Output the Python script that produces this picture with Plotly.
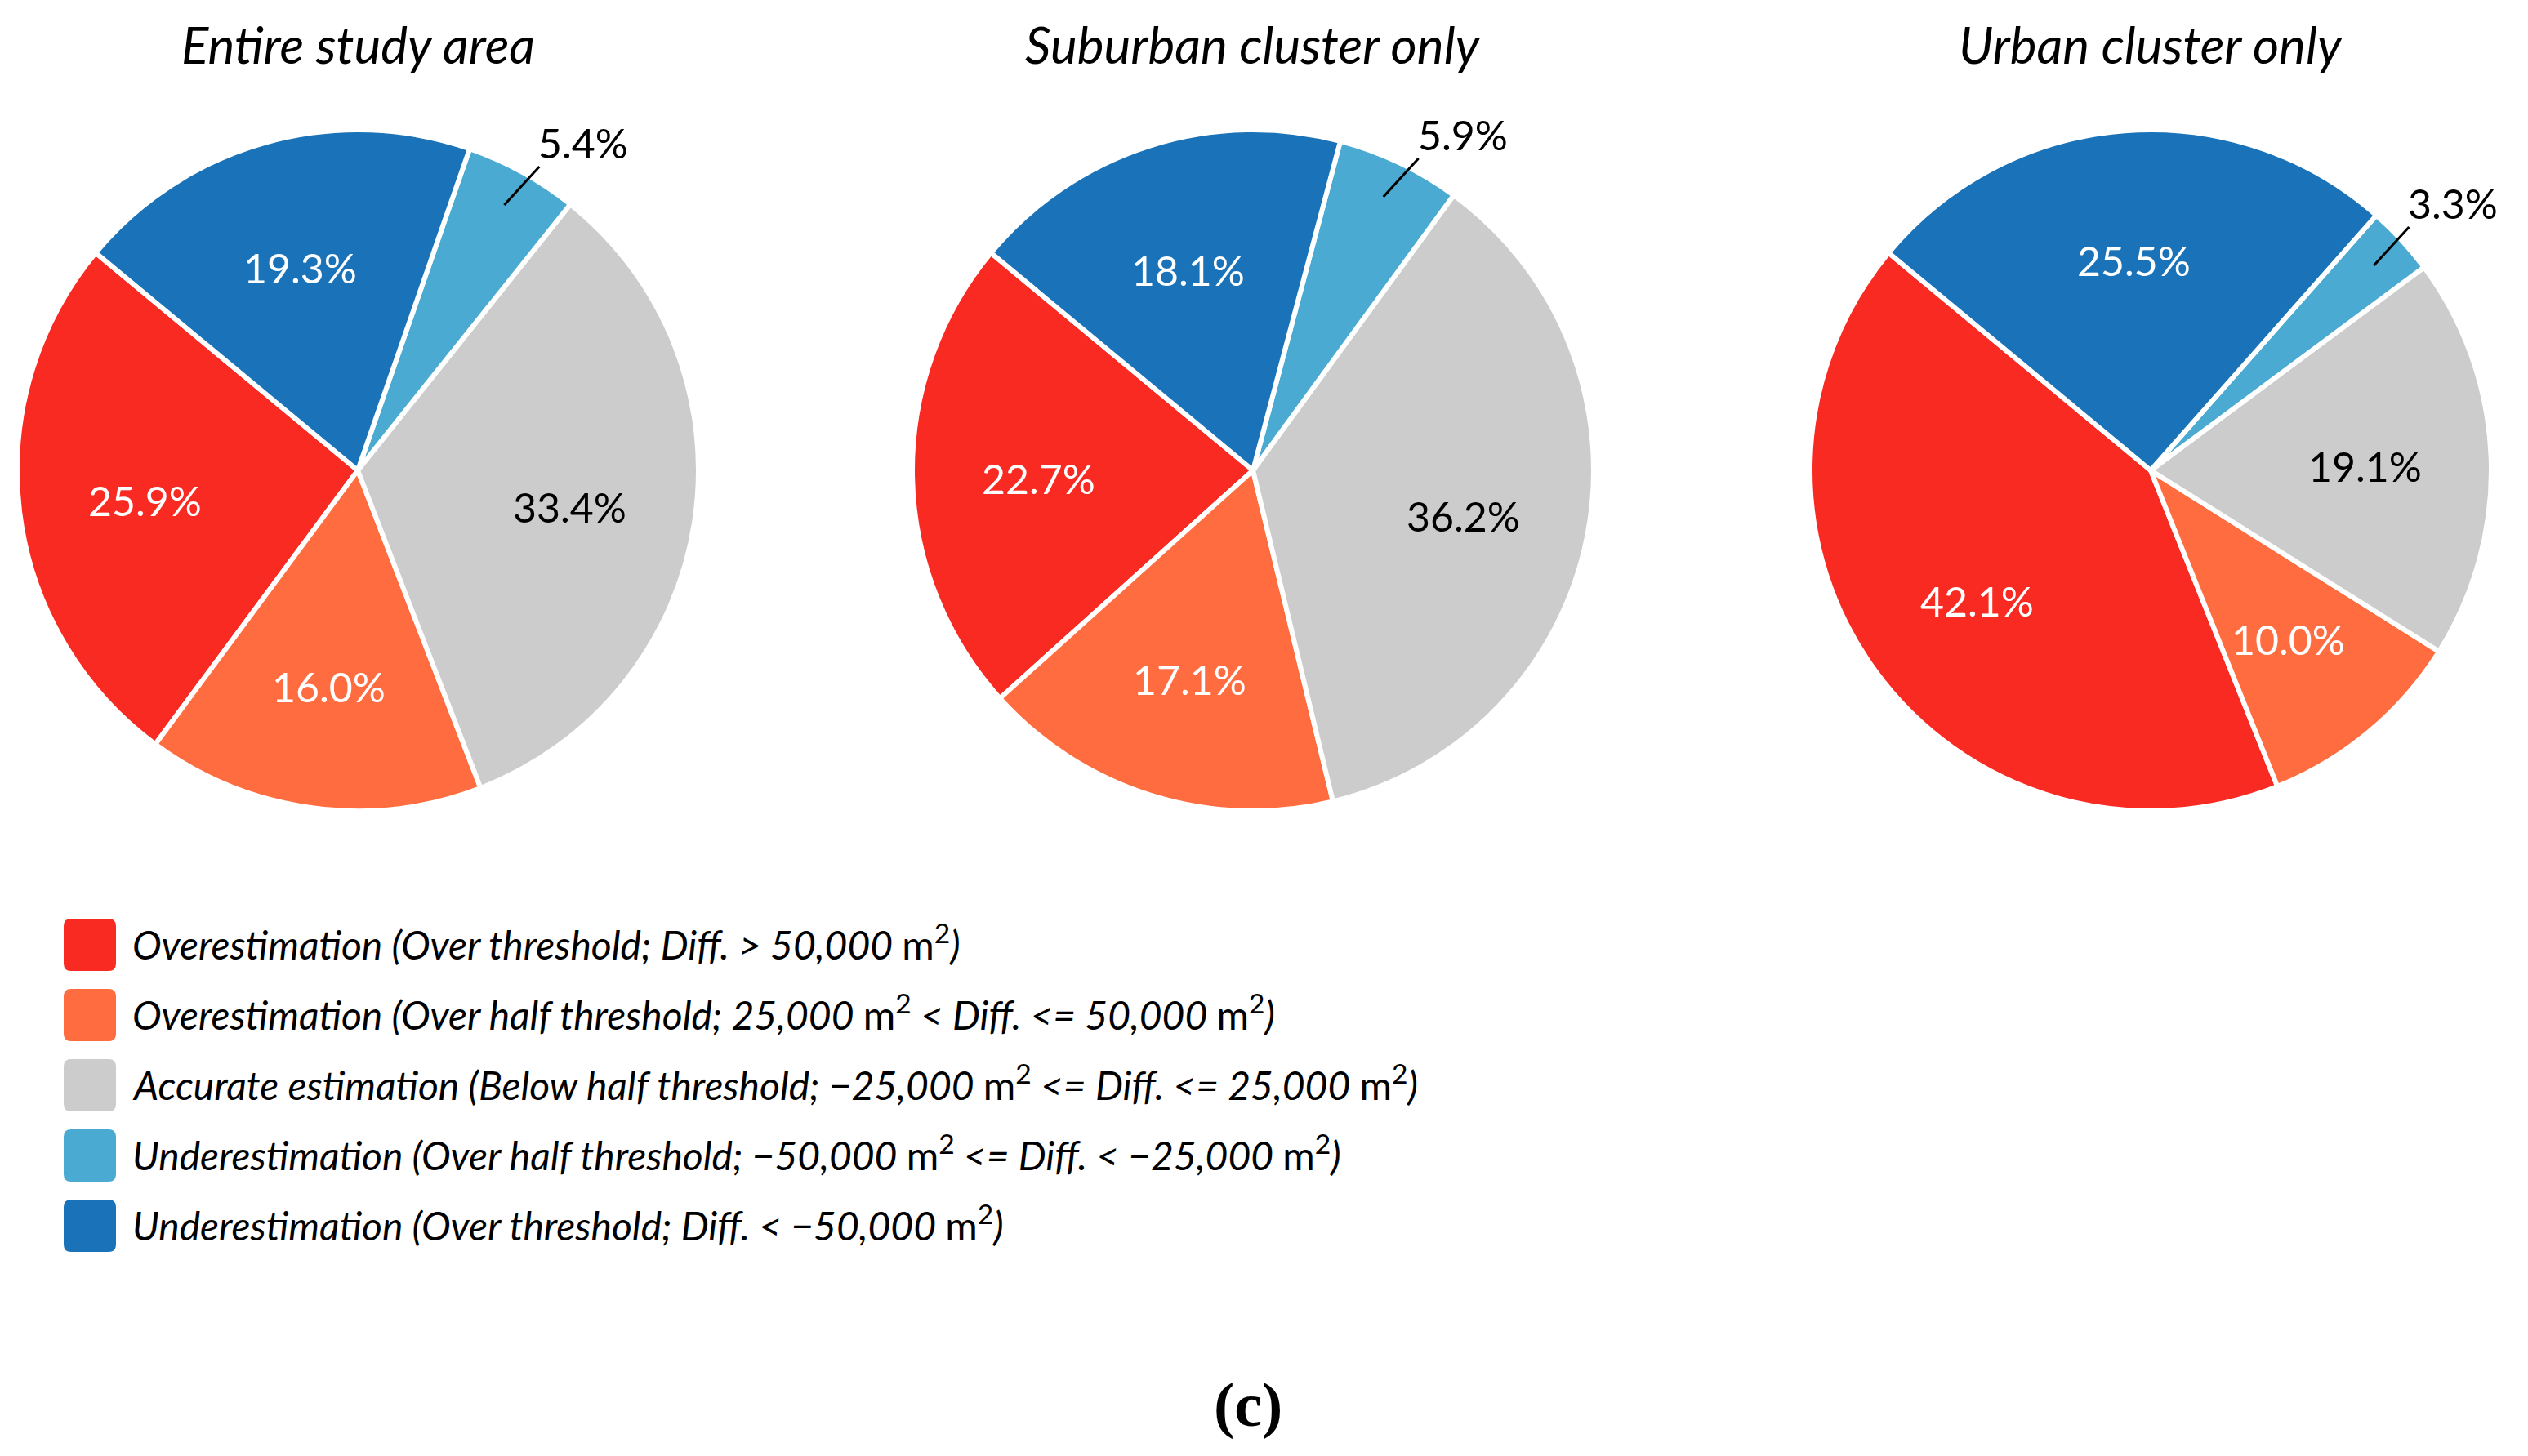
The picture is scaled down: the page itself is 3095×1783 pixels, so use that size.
import math
import plotly.graph_objects as go

# ---------------- data ----------------
categories = [
    "Overestimation (Over threshold; Diff. > 50,000 m<sup>2</sup>)",
    "Overestimation (Over half threshold; 25,000 m<sup>2</sup> < Diff. <= 50,000 m<sup>2</sup>)",
    "Accurate estimation (Below half threshold; −25,000 m<sup>2</sup> <= Diff. <= 25,000 m<sup>2</sup>)",
    "Underestimation (Over half threshold; −50,000 m<sup>2</sup> <= Diff. < −25,000 m<sup>2</sup>)",
    "Underestimation (Over threshold; Diff. < −50,000 m<sup>2</sup>)",
]
short_names = ["Over >50k", "Over 25k-50k", "Accurate", "Under 25k-50k", "Under >50k"]
panel_titles = ["Entire study area", "Suburban cluster only", "Urban cluster only"]
entire_values = [25.9, 16.0, 33.4, 5.4, 19.3]
suburban_values = [22.7, 17.1, 36.2, 5.9, 18.1]
urban_values = [42.1, 10.0, 19.1, 3.3, 25.5]
panel_values = [entire_values, suburban_values, urban_values]
colors = ["#F92A21", "#FF6C3F", "#CCCCCC", "#4BAAD2", "#1A73B8"]
text_colors = ["white", "white", "black", "black", "white"]
outside_index = 3  # small slice labelled outside with a leader line

# ---------------- layout constants ----------------
W, H = 3095, 1783
centers = [(430, 568), (1526, 568), (2625, 568)]
R = 417
start_angle = -50.3  # clockwise-from-top angle where the first slice begins (ccw)
FONT = "Lato"
LABEL_R = 0.63
LEADER_DX, LEADER_DY = 43, -47  # leader line direction/length in pixels

fig = go.Figure()
annotations = []
shapes = []


def to_paper(px, py):
    return px / W, 1 - py / H


for k, vals in enumerate(panel_values):
    cx, cy = centers[k]
    dom_x = [(cx - R) / W, (cx + R) / W]
    dom_y = [1 - (cy + R) / H, 1 - (cy - R) / H]
    rotation = start_angle - 3.6 * vals[0]
    fig.add_trace(go.Pie(
        labels=short_names,
        values=vals,
        sort=False,
        direction="counterclockwise",
        rotation=rotation,
        domain=dict(x=dom_x, y=dom_y),
        marker=dict(colors=colors, line=dict(color="white", width=6)),
        textinfo="none",
        hoverinfo="label+value",
        showlegend=False,
    ))

    # slice labels positioned from the values (mid-angle of each slice)
    cum = start_angle
    for i, v in enumerate(vals):
        end = cum - 3.6 * v
        mid = (cum + end) / 2
        cum = end
        a = math.radians(mid)
        if i == outside_index:
            x0p = cx + 0.89 * R * math.sin(a)
            y0p = cy - 0.89 * R * math.cos(a)
            x1p = x0p + LEADER_DX
            y1p = y0p + LEADER_DY
            ax0, ay0 = to_paper(x0p, y0p)
            ax1, ay1 = to_paper(x1p, y1p)
            shapes.append(dict(type="line", xref="paper", yref="paper",
                               x0=ax0, y0=ay0, x1=ax1, y1=ay1,
                               line=dict(color="black", width=3)))
            tx, ty = to_paper(x1p - 2, y1p + 2)
            annotations.append(dict(
                x=tx, y=ty, xref="paper", yref="paper",
                text=f"{v:.1f}%", showarrow=False,
                xanchor="left", yanchor="bottom", borderpad=0,
                font=dict(family=FONT, size=50, color="black"),
            ))
        else:
            px = cx + LABEL_R * R * math.sin(a)
            py = cy - LABEL_R * R * math.cos(a) + 5
            x, y = to_paper(px, py)
            annotations.append(dict(
                x=x, y=y, xref="paper", yref="paper",
                text=f"{v:.1f}%", showarrow=False,
                xanchor="center", yanchor="middle",
                font=dict(family=FONT, size=50, color=text_colors[i]),
            ))

    x, y = to_paper(cx, 46)
    annotations.append(dict(
        x=x, y=y, xref="paper", yref="paper",
        text=f"<i>{panel_titles[k]}</i>", showarrow=False,
        xanchor="center", yanchor="middle",
        font=dict(family=FONT, size=62, color="black"),
    ))

# ---------------- custom legend ----------------
leg_x0, leg_x1 = 70, 134
sw_h = 64
leg_y0 = 1149
leg_dy = 86
rad = 9
for i, (name, col) in enumerate(zip(categories, colors)):
    yc = leg_y0 + i * leg_dy
    x0, x1 = leg_x0 / W, leg_x1 / W
    y0, y1 = 1 - (yc + sw_h / 2) / H, 1 - (yc - sw_h / 2) / H
    rx, ry = rad / W, rad / H
    path = (f"M {x0+rx},{y0} L {x1-rx},{y0} Q {x1},{y0} {x1},{y0+ry} "
            f"L {x1},{y1-ry} Q {x1},{y1} {x1-rx},{y1} L {x0+rx},{y1} "
            f"Q {x0},{y1} {x0},{y1-ry} L {x0},{y0+ry} Q {x0},{y0} {x0+rx},{y0} Z")
    shapes.append(dict(type="path", path=path, xref="paper", yref="paper",
                       fillcolor=col, line=dict(width=0)))
    styled = "<i>" + name.replace("m<sup>2</sup>", "</i>m<sup>2</sup><i>") + "</i>"
    x, y = to_paper(152, yc - 4)
    annotations.append(dict(
        x=x, y=y, xref="paper", yref="paper",
        text=styled, showarrow=False,
        xanchor="left", yanchor="middle",
        font=dict(family=FONT, size=48, color="black"),
    ))

x, y = to_paper(1520, 1712)
annotations.append(dict(
    x=x, y=y, xref="paper", yref="paper",
    text="<b>(c)</b>", showarrow=False, xanchor="center", yanchor="middle",
    font=dict(family="Liberation Serif", size=76, color="black"),
))

fig.update_layout(
    width=W, height=H,
    margin=dict(l=0, r=0, t=0, b=0),
    paper_bgcolor="white", plot_bgcolor="white",
    annotations=annotations, shapes=shapes,
    showlegend=False,
)

fig.write_html("out.html")
